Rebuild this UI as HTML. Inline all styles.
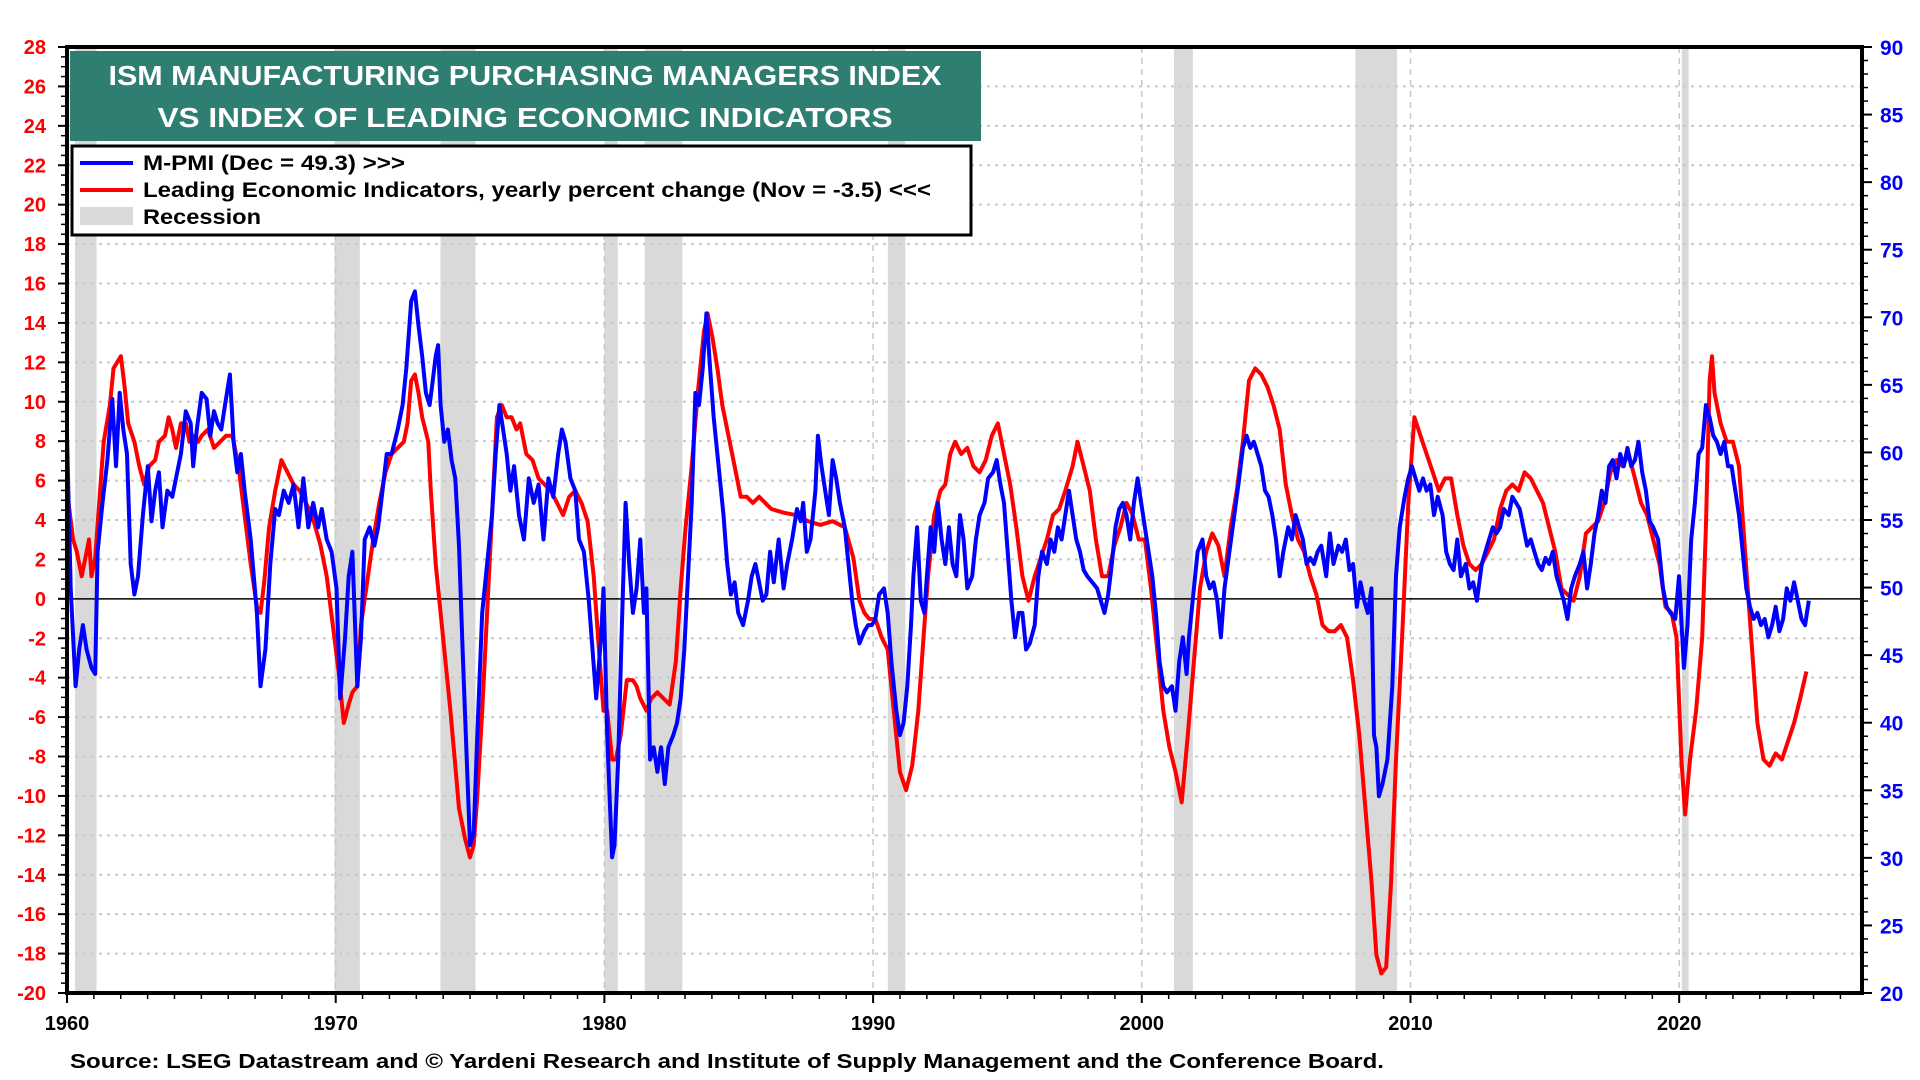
<!DOCTYPE html>
<html><head><meta charset="utf-8"><style>
html,body{margin:0;padding:0;background:#fff;}
svg{display:block;}
text{font-family:"Liberation Sans",Arial,sans-serif;font-weight:bold;}
</style></head><body>
<svg id="s" width="1920" height="1080" viewBox="0 0 1920 1080" xmlns="http://www.w3.org/2000/svg">
<g id="bg"></g>
<g id="grid"></g>
<g id="series"></g>
<g id="axes"></g>
<rect x="70" y="51" width="911" height="90" fill="#2e7f72"/>
<text x="525" y="85" fill="#fff" font-size="28" text-anchor="middle" textLength="833" lengthAdjust="spacingAndGlyphs">ISM MANUFACTURING PURCHASING MANAGERS INDEX</text>
<text x="525" y="127" fill="#fff" font-size="28" text-anchor="middle" textLength="735" lengthAdjust="spacingAndGlyphs">VS INDEX OF LEADING  ECONOMIC  INDICATORS</text>
<rect x="72" y="146" width="899" height="89" fill="#fff" stroke="#000" stroke-width="3"/>
<line x1="80" y1="163" x2="133" y2="163" stroke="#0000ff" stroke-width="4"/>
<text x="143" y="170" font-size="21" textLength="262" lengthAdjust="spacingAndGlyphs">M-PMI (Dec = 49.3) &gt;&gt;&gt;</text>
<line x1="80" y1="190" x2="133" y2="190" stroke="#ff0000" stroke-width="4"/>
<text x="143" y="197" font-size="21" textLength="788" lengthAdjust="spacingAndGlyphs">Leading Economic Indicators, yearly percent change (Nov = -3.5) &lt;&lt;&lt;</text>
<rect x="80" y="207" width="53" height="18" fill="#d9d9d9"/>
<text x="143" y="224" font-size="21" textLength="118" lengthAdjust="spacingAndGlyphs">Recession</text>
<text x="70" y="1068" font-size="20" textLength="1314" lengthAdjust="spacingAndGlyphs">Source: LSEG Datastream and © Yardeni Research and Institute of Supply Management and the Conference Board.</text>
</svg>
<script>
(function(){
var NS="http://www.w3.org/2000/svg";
function el(p,t,a,txt){var e=document.createElementNS(NS,t);for(var k in a)e.setAttribute(k,a[k]);if(txt!==undefined)e.textContent=txt;document.getElementById(p).appendChild(e);return e;}
var L=67,R=1862,T=47,B=993;
function xy(yr){return L+(yr-1960)*26.87;}
function yl(v){return B-(v+20)*(B-T)/48;}
function yr_(v){return B-(v-20)*(B-T)/70;}
// recessions
[[1960.3,1961.1],[1969.95,1970.9],[1973.9,1975.2],[1980.0,1980.5],[1981.5,1982.9],[1990.55,1991.2],[2001.2,2001.9],[2007.95,2009.5],[2020.1,2020.35]].forEach(function(r){
 el("bg","rect",{x:xy(r[0]),y:T,width:xy(r[1])-xy(r[0]),height:B-T,fill:"#d9d9d9"});});
// grid
for(var v=-18;v<=26;v+=2){ if(v===0)continue; el("grid","line",{x1:L,x2:R,y1:yl(v),y2:yl(v),stroke:"#c8c8c8","stroke-width":2,"stroke-dasharray":"3,5"});}
for(var d=1970;d<=2020;d+=10){el("grid","line",{x1:xy(d),x2:xy(d),y1:T,y2:B,stroke:"#c8c8c8","stroke-width":1.5,"stroke-dasharray":"6,5"});}
el("grid","line",{x1:L,x2:R,y1:yl(0),y2:yl(0),stroke:"#000","stroke-width":1.5});
// series (overview coords)
function tx(p){return (67+(p[0]-55)*1.2249).toFixed(1)+","+(47+(p[1]-37)*1.2222).toFixed(1);}
var red=[[55,400],[60,440],[63,450],[67,470],[70,455],[73,440],[75,470],[78,455],[82,400],[85,360],[90,330],[93,300],[96,295],[99,290],[102,315],[105,345],[110,360],[114,380],[118,395],[122,380],[127,375],[130,360],[135,355],[138,340],[141,350],[144,365],[148,345],[152,345],[155,360],[158,355],[162,360],[165,355],[170,350],[175,365],[180,360],[185,355],[190,355],[195,380],[200,420],[205,460],[210,495],[213,500],[216,475],[220,430],[225,400],[230,375],[235,385],[240,395],[245,400],[250,410],[255,420],[262,445],[267,470],[272,510],[277,550],[281,590],[285,575],[288,565],[292,560],[295,510],[300,475],[305,440],[310,410],[315,385],[320,370],[325,365],[330,360],[333,345],[336,310],[339,305],[342,320],[345,340],[350,360],[352,400],[356,460],[360,500],[364,540],[368,580],[372,625],[375,660],[380,685],[384,700],[387,690],[390,650],[394,580],[398,500],[402,420],[406,340],[410,330],[414,340],[418,340],[422,350],[425,345],[430,370],[435,375],[440,390],[445,395],[450,400],[455,410],[460,420],[465,405],[470,400],[475,410],[480,425],[485,470],[490,540],[493,580],[496,580],[500,620],[503,620],[507,600],[512,555],[517,555],[520,560],[523,570],[528,580],[532,570],[537,565],[542,570],[547,575],[552,540],[556,480],[560,430],[565,380],[570,320],[575,270],[578,255],[582,275],[586,300],[590,330],[596,360],[600,380],[605,405],[610,405],[615,410],[620,405],[625,410],[630,415],[640,418],[650,420],[660,425],[670,428],[680,425],[690,430],[697,455],[702,490],[706,500],[710,505],[715,505],[720,520],[725,530],[731,590],[735,630],[740,645],[745,625],[750,580],[755,510],[758,470],[763,420],[768,400],[772,395],[776,370],[780,360],[785,370],[790,365],[795,380],[800,385],[805,375],[810,355],[815,345],[820,370],[825,395],[830,430],[835,470],[840,490],[845,470],[850,455],[855,440],[860,420],[865,415],[870,400],[876,380],[880,360],[885,380],[890,400],[895,440],[900,470],[905,470],[910,445],[915,430],[920,410],[925,420],[930,440],[935,440],[940,480],[945,530],[950,580],[955,610],[960,630],[965,655],[970,600],[975,540],[980,480],[985,450],[990,435],[995,445],[1000,470],[1005,430],[1010,400],[1015,360],[1020,310],[1025,300],[1030,305],[1035,315],[1040,330],[1045,350],[1050,395],[1055,420],[1060,440],[1065,450],[1070,470],[1075,485],[1080,510],[1085,515],[1090,515],[1095,510],[1100,520],[1105,555],[1110,600],[1115,660],[1120,720],[1124,780],[1128,795],[1132,790],[1136,720],[1140,620],[1145,520],[1150,410],[1155,340],[1160,355],[1165,370],[1170,385],[1175,400],[1180,390],[1185,390],[1190,420],[1195,445],[1200,460],[1205,465],[1210,460],[1215,450],[1220,440],[1225,415],[1230,400],[1235,395],[1240,400],[1245,385],[1250,390],[1255,400],[1260,410],[1265,430],[1270,450],[1275,480],[1280,485],[1285,490],[1290,470],[1295,435],[1300,430],[1305,425],[1310,410],[1315,385],[1320,375],[1325,380],[1330,370],[1335,390],[1340,410],[1345,420],[1350,440],[1355,460],[1360,495],[1365,500],[1369,520],[1373,620],[1376,665],[1380,620],[1385,580],[1390,520],[1393,430],[1396,310],[1398,290],[1400,320],[1405,345],[1410,360],[1415,360],[1420,380],[1425,450],[1430,520],[1435,590],[1440,620],[1445,625],[1450,615],[1455,620],[1460,605],[1465,590],[1470,570],[1475,548]];
var blue=[[55,355],[58,480],[62,560],[65,530],[68,510],[71,530],[75,545],[78,550],[80,450],[84,410],[88,375],[92,325],[95,380],[98,320],[101,350],[104,370],[107,460],[110,485],[113,470],[117,420],[121,380],[124,425],[127,400],[130,385],[133,430],[137,400],[141,405],[145,385],[148,370],[152,335],[156,345],[158,380],[161,350],[165,320],[169,325],[172,355],[175,335],[178,345],[181,350],[184,330],[188,305],[191,360],[194,385],[197,370],[200,400],[205,440],[210,500],[213,560],[217,530],[221,460],[225,415],[228,420],[232,400],[236,410],[240,395],[244,430],[248,390],[252,430],[256,410],[260,430],[263,415],[267,440],[271,450],[275,480],[278,570],[282,520],[285,470],[288,450],[292,560],[295,520],[298,440],[302,430],[306,445],[309,430],[312,405],[316,370],[320,370],[325,350],[329,330],[332,300],[336,245],[339,237],[342,265],[345,290],[348,320],[351,330],[353,315],[356,290],[358,281],[360,330],[363,360],[366,350],[369,375],[372,390],[375,445],[378,530],[381,610],[384,690],[387,680],[390,600],[394,500],[398,460],[402,420],[405,370],[408,330],[411,350],[414,370],[417,400],[420,380],[424,420],[428,440],[432,390],[436,410],[440,395],[444,440],[448,390],[452,405],[456,370],[459,350],[462,360],[466,390],[470,400],[473,440],[477,450],[481,490],[484,530],[487,570],[491,520],[493,480],[496,600],[498,650],[500,700],[502,690],[505,620],[508,510],[511,410],[514,460],[517,500],[520,480],[523,440],[526,500],[528,480],[531,620],[534,610],[537,630],[540,610],[543,640],[546,610],[550,600],[553,590],[556,570],[559,530],[562,470],[565,410],[568,320],[571,330],[574,300],[577,255],[580,300],[583,340],[587,380],[591,420],[594,460],[597,485],[600,475],[603,500],[607,510],[611,490],[614,470],[617,460],[620,475],[623,490],[626,485],[629,450],[632,475],[636,440],[640,480],[643,460],[647,440],[651,415],[654,425],[656,410],[659,450],[662,440],[666,400],[668,355],[671,380],[674,400],[677,420],[680,375],[683,390],[686,410],[690,430],[693,460],[696,490],[699,510],[702,525],[706,515],[709,510],[712,510],[715,505],[718,485],[722,480],[725,500],[728,540],[732,580],[735,600],[738,590],[741,560],[744,510],[746,470],[749,430],[752,490],[755,500],[757,470],[760,430],[763,450],[766,410],[769,440],[772,460],[775,430],[778,460],[781,470],[784,420],[787,440],[790,480],[794,470],[797,440],[800,420],[804,410],[807,390],[811,385],[814,375],[817,395],[820,410],[823,450],[826,490],[829,520],[832,500],[835,500],[838,530],[841,525],[845,510],[848,470],[851,450],[855,460],[858,440],[861,450],[864,430],[867,440],[870,420],[873,400],[876,420],[879,440],[882,450],[885,465],[888,470],[892,475],[896,480],[899,490],[902,500],[905,485],[908,460],[911,430],[914,415],[917,410],[920,420],[923,440],[926,410],[929,390],[932,410],[935,430],[938,450],[941,470],[944,500],[947,540],[950,560],[953,565],[957,560],[960,580],[963,540],[966,520],[969,550],[971,520],[975,480],[978,450],[982,440],[985,470],[988,480],[991,475],[994,490],[997,520],[1000,480],[1004,450],[1008,420],[1012,390],[1015,365],[1018,355],[1021,365],[1024,360],[1027,370],[1030,380],[1033,400],[1036,405],[1039,420],[1042,440],[1045,470],[1048,450],[1052,430],[1055,440],[1058,420],[1061,430],[1064,440],[1067,460],[1070,455],[1073,460],[1076,450],[1079,445],[1083,470],[1086,435],[1089,460],[1093,445],[1096,450],[1099,440],[1102,465],[1105,460],[1108,495],[1111,475],[1114,490],[1117,500],[1120,480],[1122,600],[1124,610],[1126,650],[1129,640],[1133,620],[1137,560],[1140,470],[1143,430],[1147,405],[1150,390],[1153,380],[1156,390],[1159,400],[1162,390],[1165,400],[1168,395],[1171,420],[1174,405],[1178,420],[1181,450],[1184,460],[1187,465],[1190,440],[1193,470],[1197,460],[1200,480],[1203,475],[1206,490],[1210,460],[1213,450],[1216,440],[1219,430],[1222,435],[1225,430],[1228,415],[1232,420],[1235,405],[1238,410],[1241,415],[1244,430],[1247,445],[1250,440],[1253,450],[1256,460],[1259,465],[1262,455],[1265,460],[1268,450],[1271,470],[1274,480],[1277,490],[1280,505],[1283,480],[1286,470],[1290,460],[1293,450],[1296,480],[1299,460],[1302,435],[1305,420],[1308,400],[1311,410],[1314,380],[1317,375],[1320,390],[1323,370],[1326,380],[1329,365],[1332,380],[1335,375],[1338,360],[1341,385],[1344,400],[1347,425],[1350,430],[1354,440],[1358,480],[1361,495],[1364,500],[1368,505],[1371,470],[1375,545],[1378,510],[1381,440],[1384,410],[1387,370],[1390,365],[1393,330],[1396,340],[1399,355],[1402,360],[1405,370],[1408,360],[1411,380],[1414,380],[1417,400],[1420,420],[1423,450],[1426,480],[1429,495],[1432,505],[1435,500],[1438,510],[1441,505],[1444,520],[1447,510],[1450,495],[1453,515],[1456,505],[1459,480],[1462,490],[1465,475],[1468,490],[1471,505],[1474,510],[1477,490]];
el("series","polyline",{points:red.map(tx).join(" "),fill:"none",stroke:"#ff0000","stroke-width":4,"stroke-linejoin":"round"});
el("series","polyline",{points:blue.map(tx).join(" "),fill:"none",stroke:"#0000ff","stroke-width":4,"stroke-linejoin":"round"});
// axes frame
el("axes","rect",{x:L,y:T,width:R-L,height:B-T,fill:"none",stroke:"#000","stroke-width":4});
// left ticks & labels
for(var i=0;i<=96;i++){var v=-20+i*0.5;var y=yl(v);var maj=(i%4===0);
 el("axes","line",{x1:L-(maj?9:6),x2:L,y1:y,y2:y,stroke:"#000","stroke-width":maj?2:1.5});
 if(maj) el("axes","text",{x:46,y:y+7,fill:"#ff0000","font-size":20,"text-anchor":"end"},String(v));}
// right ticks & labels
for(var v=20;v<=90;v++){var y=yr_(v);var maj=(v%5===0);
 el("axes","line",{x1:R,x2:R+(maj?10:6),y1:y,y2:y,stroke:"#000","stroke-width":maj?2:1.5});
 if(maj) el("axes","text",{x:1880,y:y+8,fill:"#0000ff","font-size":21},String(v));}
// bottom ticks
for(var yr=1960;yr<=2026;yr++){var x=xy(yr);var maj=(yr%10===0);
 el("axes","line",{x1:x,x2:x,y1:B,y2:B+(maj?10:6),stroke:"#000","stroke-width":maj?2:1.5});
 if(maj) el("axes","text",{x:x,y:1030,"font-size":20,"text-anchor":"middle"},String(yr));}
})();
</script>
</body></html>
